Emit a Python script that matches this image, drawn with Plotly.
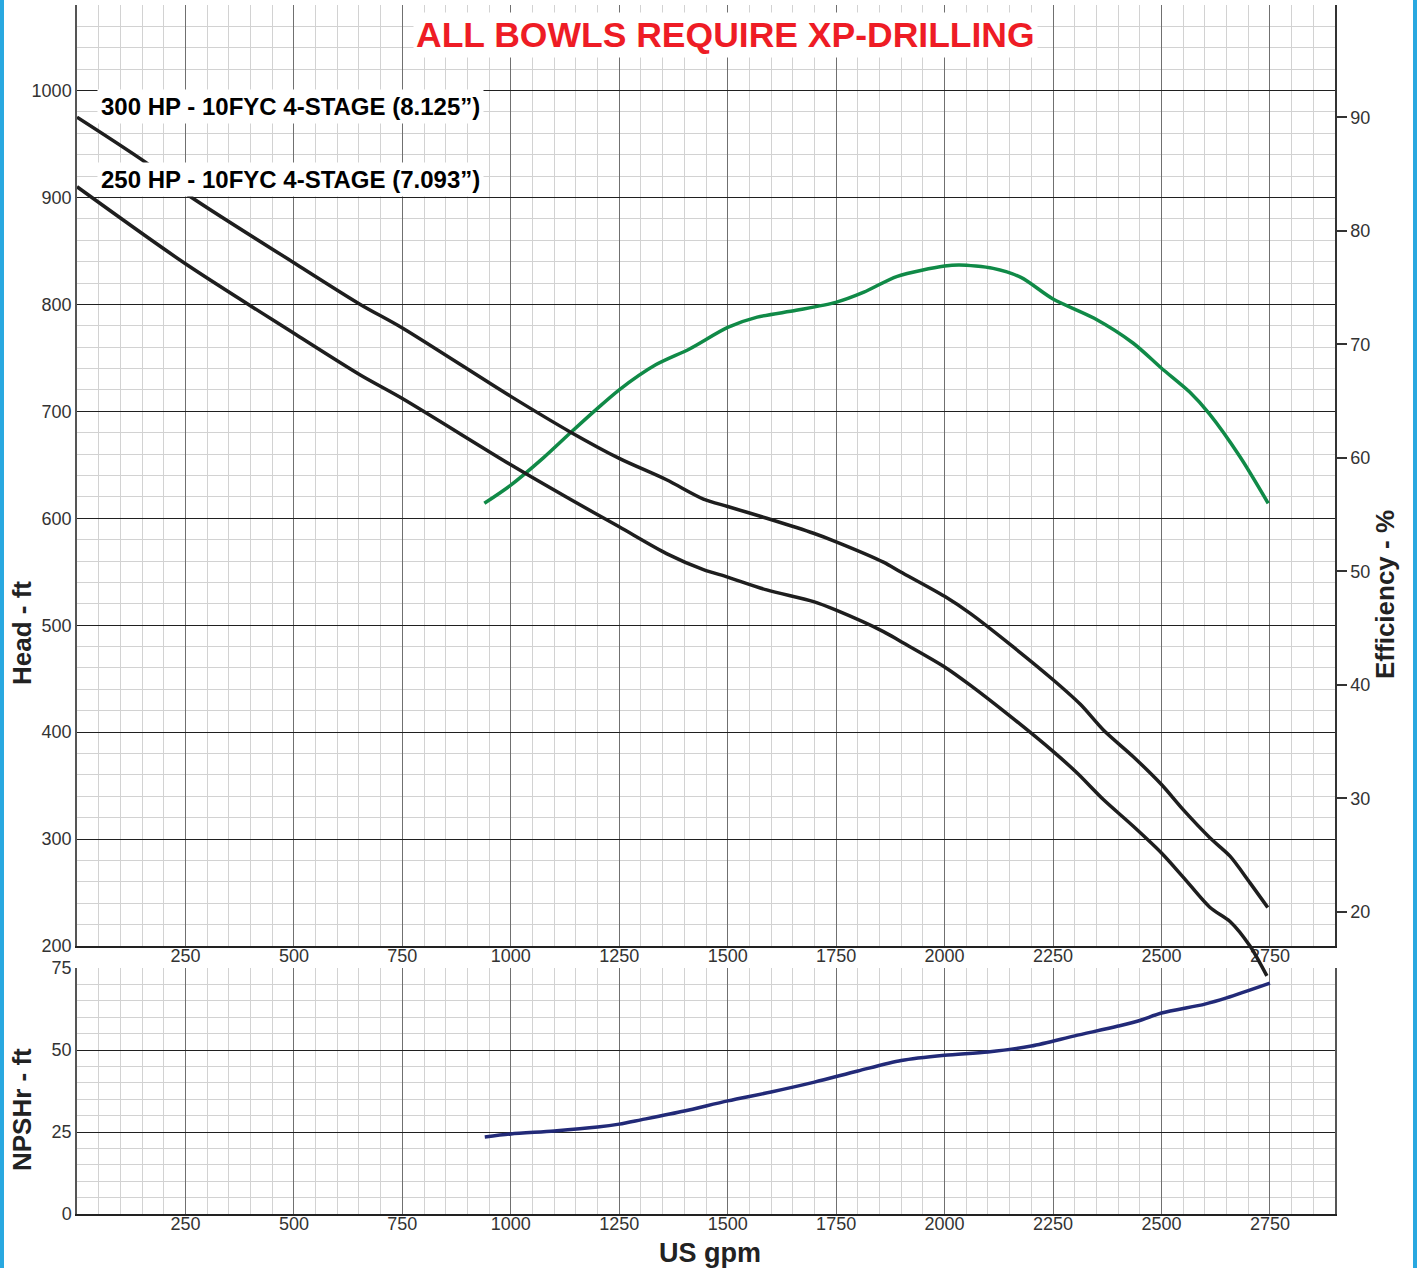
import plotly.graph_objects as go

# Head curves (US gpm vs ft)
hp300_gpm = [0, 168, 250, 500, 653, 750, 1000, 1136, 1250, 1359, 1444, 1500, 1590, 1698, 1750, 1859,
             1898, 2000, 2059, 2151, 2250, 2313, 2366, 2435, 2500, 2551, 2612, 2658, 2704, 2745]
hp300_head = [975, 930, 904, 839, 800, 778, 714, 681, 656, 636, 618, 611, 600, 586, 578, 559,
              550, 527, 511, 482, 449, 426, 402, 377, 351, 327, 301, 284, 259, 236]

hp250_gpm = [0, 250, 500, 653, 750, 1000, 1136, 1250, 1359, 1444, 1500, 1590, 1698, 1750, 1859,
             1898, 2000, 2059, 2151, 2250, 2305, 2366, 2435, 2500, 2551, 2612, 2658, 2704, 2743]
hp250_head = [910, 838, 773, 734, 712, 650, 618, 592, 567, 552, 545, 533, 522, 514, 494,
              485, 461, 444, 415, 382, 362, 337, 312, 287, 264, 236, 223, 200, 172]

# Efficiency (%)
eff_gpm = [939, 1000, 1075, 1140, 1192, 1250, 1334, 1412, 1500, 1568, 1658, 1749, 1814, 1891, 2000,
           2034, 2112, 2176, 2250, 2345, 2435, 2500, 2565, 2610, 2681, 2746]
eff_pct = [56.0, 57.6, 60.0, 62.3, 64.1, 66.0, 68.2, 69.6, 71.5, 72.4, 73.0, 73.7, 74.6, 76.0, 76.9,
           77.0, 76.7, 75.9, 74.0, 72.3, 70.1, 67.9, 65.8, 63.9, 60.1, 56.0]

# NPSHr (ft)
npsh_gpm = [940, 1000, 1100, 1200, 1250, 1300, 1400, 1500, 1600, 1700, 1800, 1900, 2000, 2100,
            2200, 2300, 2400, 2450, 2500, 2600, 2650, 2750]
npsh_ft = [23.5, 24.4, 25.3, 26.5, 27.4, 28.7, 31.4, 34.5, 37.2, 40.2, 43.6, 46.8, 48.4, 49.4,
           51.2, 54.3, 57.3, 59.0, 61.3, 64.0, 65.9, 70.4]

x_ticks = [250, 500, 750, 1000, 1250, 1500, 1750, 2000, 2250, 2500, 2750]
eff_ticks = [20, 30, 40, 50, 60, 70, 80, 90]

W, H = 1417, 1268
ML, MR, MT, MB = 77, 82, 5, 54
PH = H - MT - MB
PW = W - ML - MR

head_bottom = (1214 - 946) / PH
npsh_top = (1214 - 968) / PH
head_range = [200, 1080]
# extended head scale covering full plot height (so curve can run past the bottom)
ext_lo = head_range[1] - (head_range[1] - head_range[0]) / (1 - head_bottom)

FONT = "Liberation Sans, Arial, sans-serif"
MINOR = "#d2d2d2"
tickfont = dict(family=FONT, size=18, color="#333333")


def px(xp, yp):
    return (xp - ML) / PW, 1 - (yp - MT) / PH


fig = go.Figure()

fig.add_trace(go.Scatter(x=hp300_gpm, y=hp300_head, mode="lines", xaxis="x3", yaxis="y4",
                         line=dict(color="#1e1e1e", width=3.5, shape="spline", smoothing=0.8),
                         showlegend=False, name="300 HP"))
fig.add_trace(go.Scatter(x=hp250_gpm, y=hp250_head, mode="lines", xaxis="x3", yaxis="y4",
                         line=dict(color="#1e1e1e", width=3.5, shape="spline", smoothing=0.8),
                         showlegend=False, name="250 HP"))
fig.add_trace(go.Scatter(x=eff_gpm, y=eff_pct, mode="lines", xaxis="x", yaxis="y2",
                         line=dict(color="#108a47", width=3.5, shape="spline", smoothing=0.8),
                         showlegend=False, name="Efficiency"))
fig.add_trace(go.Scatter(x=npsh_gpm, y=npsh_ft, mode="lines", xaxis="x2", yaxis="y3",
                         line=dict(color="#222a78", width=3.5, shape="spline", smoothing=0.8),
                         showlegend=False, name="NPSHr"))

xcommon = dict(range=[0, 2900], tickmode="array", tickvals=x_ticks, tickfont=tickfont,
               showgrid=True, gridcolor="#707070", gridwidth=1.2,
               minor=dict(dtick=50, tick0=0, showgrid=True, gridcolor=MINOR, gridwidth=1),
               showline=True, linecolor="#222222", linewidth=1.5, ticks="", zeroline=False,
               ticklabelstandoff=-7, fixedrange=True)

fig.update_layout(
    width=W, height=H,
    margin=dict(l=ML, r=MR, t=MT, b=MB, autoexpand=False),
    paper_bgcolor="white", plot_bgcolor="rgba(0,0,0,0)",
    showlegend=False,
    xaxis=dict(xcommon, anchor="y", domain=[0, 1]),
    yaxis=dict(domain=[head_bottom, 1], range=head_range, tick0=0, dtick=100,
               tickfont=tickfont, showgrid=True, gridcolor="#202020", gridwidth=1,
               minor=dict(dtick=20, tick0=0, showgrid=True, gridcolor=MINOR, gridwidth=1),
               showline=True, linecolor="#555555", linewidth=1.5, zeroline=False, anchor="x"),
    yaxis2=dict(overlaying="y", side="right", anchor="x", range=[17.0, 99.9],
                tickmode="array", tickvals=eff_ticks, tickfont=tickfont,
                ticks="outside", ticklen=10, tickcolor="#333333", tickwidth=1.5,
                showgrid=False, zeroline=False, showline=True, linecolor="#333333", linewidth=1.5),
    xaxis2=dict(xcommon, anchor="y3", domain=[0, 1]),
    yaxis3=dict(domain=[0, npsh_top], range=[0, 75], tick0=0, dtick=25, anchor="x2",
                tickfont=tickfont, showgrid=True, gridcolor="#202020", gridwidth=1,
                minor=dict(dtick=5, tick0=0, showgrid=True, gridcolor=MINOR, gridwidth=1),
                showline=True, linecolor="#555555", linewidth=1.5, mirror=True, zeroline=False),
    xaxis3=dict(domain=[0, 1], range=[0, 2900], visible=False, anchor="y4"),
    yaxis4=dict(domain=[0, 1], range=[ext_lo, head_range[1]], visible=False, anchor="x3"),
)

# title banner
tx, ty = px(725, 35)
fig.add_annotation(x=tx, y=ty, xref="paper", yref="paper", xanchor="center", yanchor="middle",
                   text="<b>ALL BOWLS REQUIRE XP-DRILLING</b>", showarrow=False,
                   font=dict(family=FONT, size=35.5, color="#ee1c25"),
                   bgcolor="white", borderpad=2)

# curve labels
for txt, yv in [("300 HP - 10FYC 4-STAGE (8.125”)", 985), ("250 HP - 10FYC 4-STAGE (7.093”)", 917)]:
    fig.add_annotation(x=45, y=yv, xref="x", yref="y", xanchor="left", yanchor="middle",
                       text="<b>" + txt + "</b>", showarrow=False,
                       font=dict(family=FONT, size=24, color="black"),
                       bgcolor="white", borderpad=3)

# axis titles
for txt, xp, yp, ang, size in [("Head - ft", 22, 633, -90, 26),
                               ("NPSHr - ft", 22, 1110, -90, 26),
                               ("Efficiency - %", 1385, 595, -90, 26),
                               ("US gpm", 710, 1253, 0, 27)]:
    ax_, ay_ = px(xp, yp)
    fig.add_annotation(x=ax_, y=ay_, xref="paper", yref="paper", xanchor="center",
                       yanchor="middle", text="<b>" + txt + "</b>", textangle=ang,
                       showarrow=False, font=dict(family=FONT, size=size, color="#222222"))

# blue page edges
for x0, x1 in [(0, 4), (1413, 1417)]:
    fig.add_shape(type="rect", xref="paper", yref="paper",
                  x0=(x0 - ML) / PW, x1=(x1 - ML) / PW,
                  y0=-MB / PH, y1=1 + MT / PH,
                  fillcolor="#29a8e0", line=dict(width=0))

fig.write_html("out.html", config={"displayModeBar": False},
               post_script="document.body.style.margin='0';")
